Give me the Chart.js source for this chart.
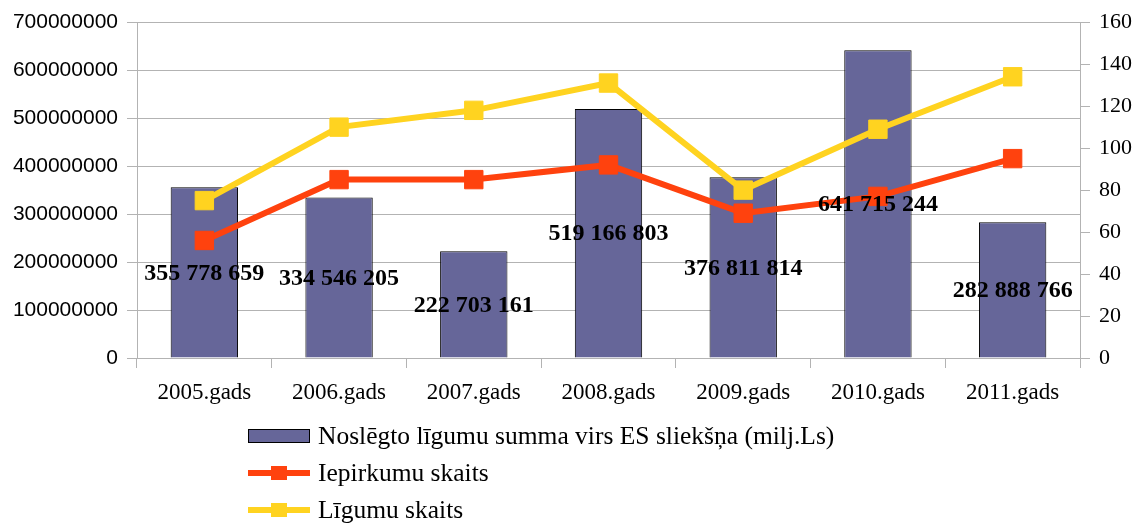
<!DOCTYPE html>
<html>
<head>
<meta charset="utf-8">
<script src="https://cdn.jsdelivr.net/npm/chart.js@4.4.0/dist/chart.umd.min.js"></script>
<style>
  body { margin: 0; background: #fff; }
  #wrap { width: 1136px; height: 525px; }
</style>
</head>
<body>
<div id="wrap"><canvas id="chart1" width="1136" height="525"></canvas></div>
<script>
var years = ['2005.gads', '2006.gads', '2007.gads', '2008.gads', '2009.gads', '2010.gads', '2011.gads'];
var summa = [355778659, 334546205, 222703161, 519166803, 376811814, 641715244, 282888766];
var iepirkumi = [56, 85, 85, 92, 69, 77, 95];
var ligumi = [75, 110, 118, 131, 80, 109, 134];

var colors = {
  bar: '#666699',
  orange: '#ff420e',
  yellow: '#ffd320',
  grid: '#b3b3b3'
};

// thousands with spaces: 355 778 659
function spaced(n) {
  return String(n).replace(/\B(?=(\d{3})+(?!\d))/g, ' ');
}

// value labels in the middle of each bar
var barLabels = {
  id: 'barLabels',
  afterDatasetsDraw: function(chart) {
    var ctx = chart.ctx;
    var meta = chart.getDatasetMeta(0);
    ctx.save();
    ctx.font = 'bold 24px "Liberation Serif"';
    ctx.fillStyle = '#000';
    ctx.textAlign = 'center';
    ctx.textBaseline = 'middle';
    meta.data.forEach(function(bar, i) {
      ctx.fillText(spaced(summa[i]), bar.x, (bar.y + bar.base) / 2 + 1);
    });
    ctx.restore();
  }
};

// vertical legend under the chart
var sideLegend = {
  id: 'sideLegend',
  afterDraw: function(chart) {
    var ctx = chart.ctx;
    var x0 = 248, w = 62, rows = [436, 473, 510];
    ctx.save();
    ctx.font = '25.5px "Liberation Serif"';
    ctx.textBaseline = 'middle';
    ctx.textAlign = 'left';
    chart.data.datasets.forEach(function(ds, i) {
      var y = rows[i];
      if (ds.type === 'bar') {
        ctx.fillStyle = ds.backgroundColor;
        ctx.fillRect(x0, y - 7, w, 14);
        ctx.strokeStyle = '#000';
        ctx.lineWidth = 1;
        ctx.strokeRect(x0 + 0.5, y - 6.5, w - 1, 13);
      } else {
        ctx.strokeStyle = ds.borderColor;
        ctx.lineWidth = 6;
        ctx.beginPath();
        ctx.moveTo(x0, y);
        ctx.lineTo(x0 + w, y);
        ctx.stroke();
        ctx.fillStyle = ds.borderColor;
        ctx.fillRect(x0 + w / 2 - 8, y - 7, 16, 14);
      }
      ctx.fillStyle = '#000';
      ctx.fillText(ds.label, 318, y + 1);
    });
    ctx.restore();
  }
};

var config = {
  type: 'bar',
  data: {
    labels: years,
    datasets: [
      {
        type: 'bar',
        label: 'Noslēgto līgumu summa virs ES sliekšņa (milj.Ls)',
        data: summa,
        backgroundColor: colors.bar,
        borderColor: '#000',
        borderWidth: 1,
        barPercentage: 0.5,
        categoryPercentage: 1,
        yAxisID: 'y',
        order: 3
      },
      {
        type: 'line',
        label: 'Iepirkumu skaits',
        data: iepirkumi,
        borderColor: colors.orange,
        backgroundColor: colors.orange,
        borderWidth: 6,
        pointStyle: 'rect',
        pointRadius: 13,
        pointBorderWidth: 1,
        tension: 0,
        fill: false,
        yAxisID: 'y1',
        order: 2
      },
      {
        type: 'line',
        label: 'Līgumu skaits',
        data: ligumi,
        borderColor: colors.yellow,
        backgroundColor: colors.yellow,
        borderWidth: 6,
        pointStyle: 'rect',
        pointRadius: 13,
        pointBorderWidth: 1,
        tension: 0,
        fill: false,
        yAxisID: 'y1',
        order: 1
      }
    ]
  },
  options: {
    responsive: false,
    animation: false,
    layout: { padding: { top: 22, bottom: 107, left: 0, right: 0 } },
    plugins: {
      legend: { display: false },
      tooltip: { enabled: false }
    },
    scales: {
      x: {
        grid: { offset: true, drawOnChartArea: false, drawTicks: true, tickLength: 10, color: colors.grid },
        border: { color: colors.grid },
        ticks: { color: '#000', font: { family: 'Liberation Serif', size: 23 }, padding: 11 },
        afterFit: function(s) { s.height = 60; }
      },
      y: {
        position: 'left',
        min: 0,
        max: 700000000,
        grid: { color: colors.grid, tickLength: 10 },
        border: { color: colors.grid },
        ticks: {
          stepSize: 100000000,
          color: '#000',
          font: { family: 'Liberation Sans', size: 21 },
          padding: 9,
          callback: function(v) { return String(v); }
        },
        afterFit: function(s) { s.width = 137; }
      },
      y1: {
        position: 'right',
        min: 0,
        max: 160,
        grid: { drawOnChartArea: false, color: colors.grid, tickLength: 10 },
        border: { color: colors.grid },
        ticks: {
          stepSize: 20,
          color: '#000',
          font: { family: 'Liberation Serif', size: 22 },
          padding: 9
        },
        afterFit: function(s) { s.width = 56; }
      }
    }
  },
  plugins: [barLabels, sideLegend]
};

var ctx = document.getElementById('chart1').getContext('2d');
window.chart1 = new Chart(ctx, config);
</script>
</body>
</html>
